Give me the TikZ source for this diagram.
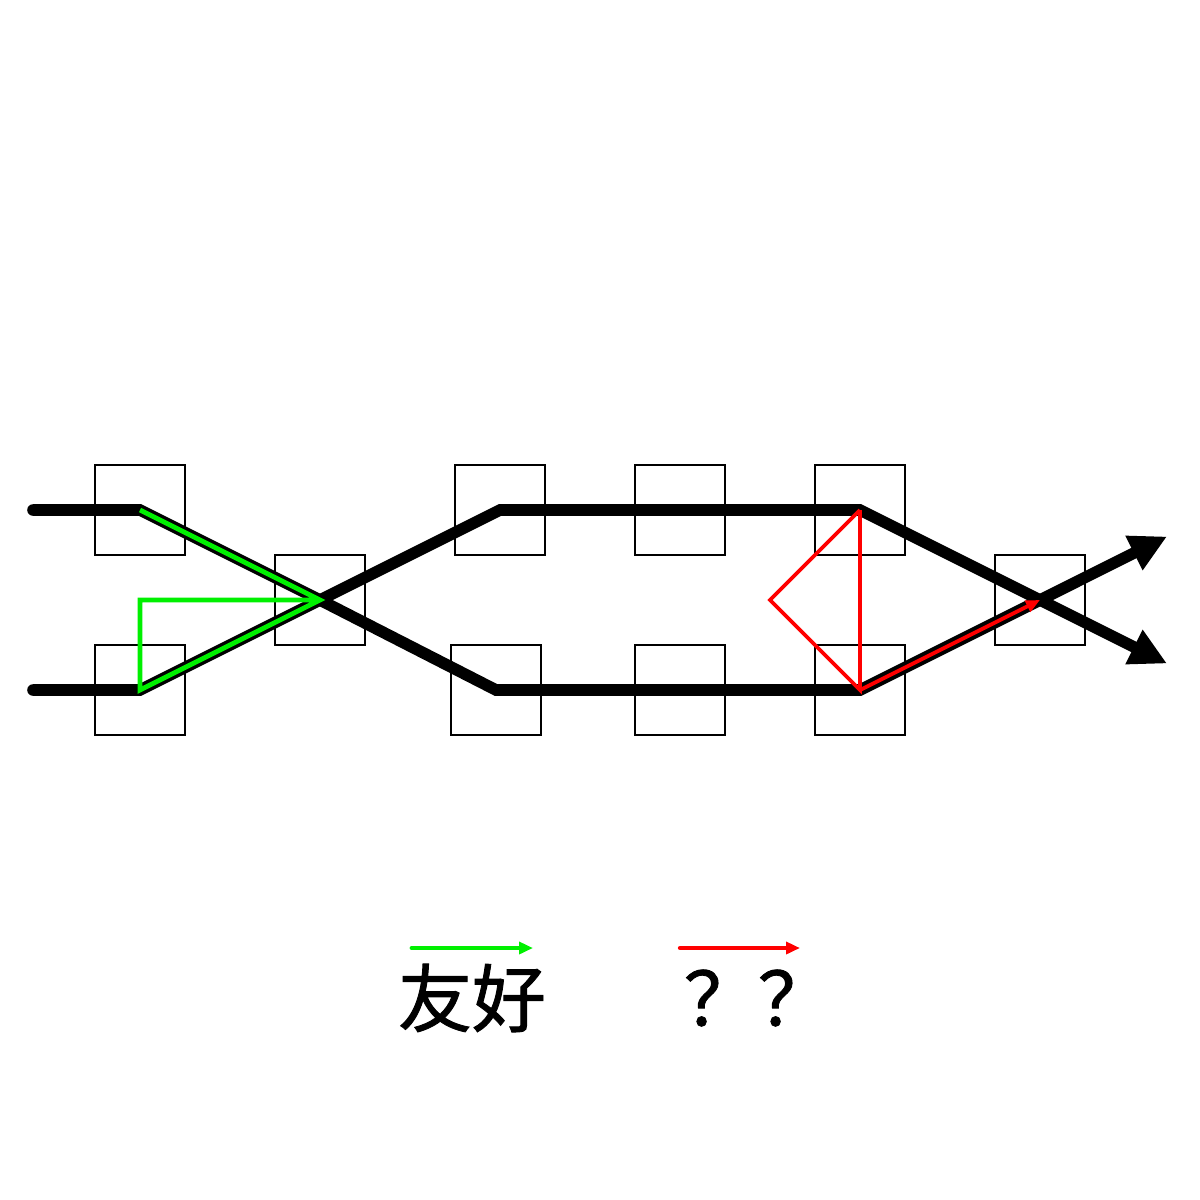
\documentclass[tikz,border=0pt]{standalone}
\usepackage{fontspec}
\newfontfamily\cjk[FakeBold=1.2]{Noto Sans CJK SC}
\usetikzlibrary{arrows.meta}
\definecolor{lgreen}{RGB}{0,240,0}
\definecolor{lred}{RGB}{255,0,0}
\tikzset{
  box/.style={draw=black, line width=1pt, minimum size=45pt, inner sep=0pt, fill=none},
  track/.style={line width=5.8pt, line join=miter},
  greenpath/.style={draw=lgreen, line width=2.4pt},
  redpath/.style={draw=lred, line width=1.9pt},
  bigtip/.style={-{Triangle[length=18.5pt,width=18pt]}},
}
\begin{document}
\begin{tikzpicture}[x=0.5pt,y=-0.5pt]
\useasboundingbox (0,0) rectangle (1200,1200);
% boxes
\node[box] (b1) at (140,510) {};
\node[box] (b2) at (140,690) {};
\node[box] (b3) at (320,600) {};
\node[box] (b4) at (500,510) {};
\node[box] (b5) at (496,690) {};
\node[box] (b6) at (680,510) {};
\node[box] (b7) at (680,690) {};
\node[box] (b8) at (860,510) {};
\node[box] (b9) at (860,690) {};
\node[box] (b10) at (1040,600) {};
% free ends
\coordinate (s1) at (33,510);
\coordinate (s2) at (33,690);
\coordinate (e1) at (1167,663.5);
\coordinate (e2) at (1167,536.5);
\coordinate (mr) at (770,600);
\coordinate (mg) at (140,600);
% tracks
\draw[track, line cap=round] (s1) -- (b1.center) -- (b3.center) -- (b5.center) -- (b9.center) -- (b10.center);
\draw[track, line cap=round] (s2) -- (b2.center) -- (b3.center) -- (b4.center) -- (b8.center) -- (b10.center);
\draw[track, bigtip] (b10.center) -- (e2);
\draw[track, bigtip] (b10.center) -- (e1);
% green
\draw[greenpath, line join=miter] (b1.center) -- (b3.center) -- (b2.center) -- (mg) -- (b3.center);
% red
\draw[redpath, line join=miter] (b8.center) -- (mr) -- (b9.center) -- (b8.center);
\draw[redpath, -{Triangle[length=7pt,width=6pt]}] (b9.center) -- (b10.center);
% legend
\coordinate (lg1) at (412,948);
\coordinate (lg2) at (533,948);
\coordinate (lr1) at (680,948);
\coordinate (lr2) at (800,948);
\draw[greenpath, line cap=round, -{Triangle[length=7pt,width=6pt]}] (lg1) -- (lg2);
\draw[redpath, line width=2.2pt, line cap=round, -{Triangle[length=7pt,width=6pt]}] (lr1) -- (lr2);
\node[font=\cjk\fontsize{37pt}{40pt}\selectfont, inner sep=0pt] (t1) at (472,998) {友好};
\node[font=\cjk\fontsize{37pt}{40pt}\selectfont, inner sep=0pt] (t2) at (758,998) {？？};
\end{tikzpicture}
\end{document}
